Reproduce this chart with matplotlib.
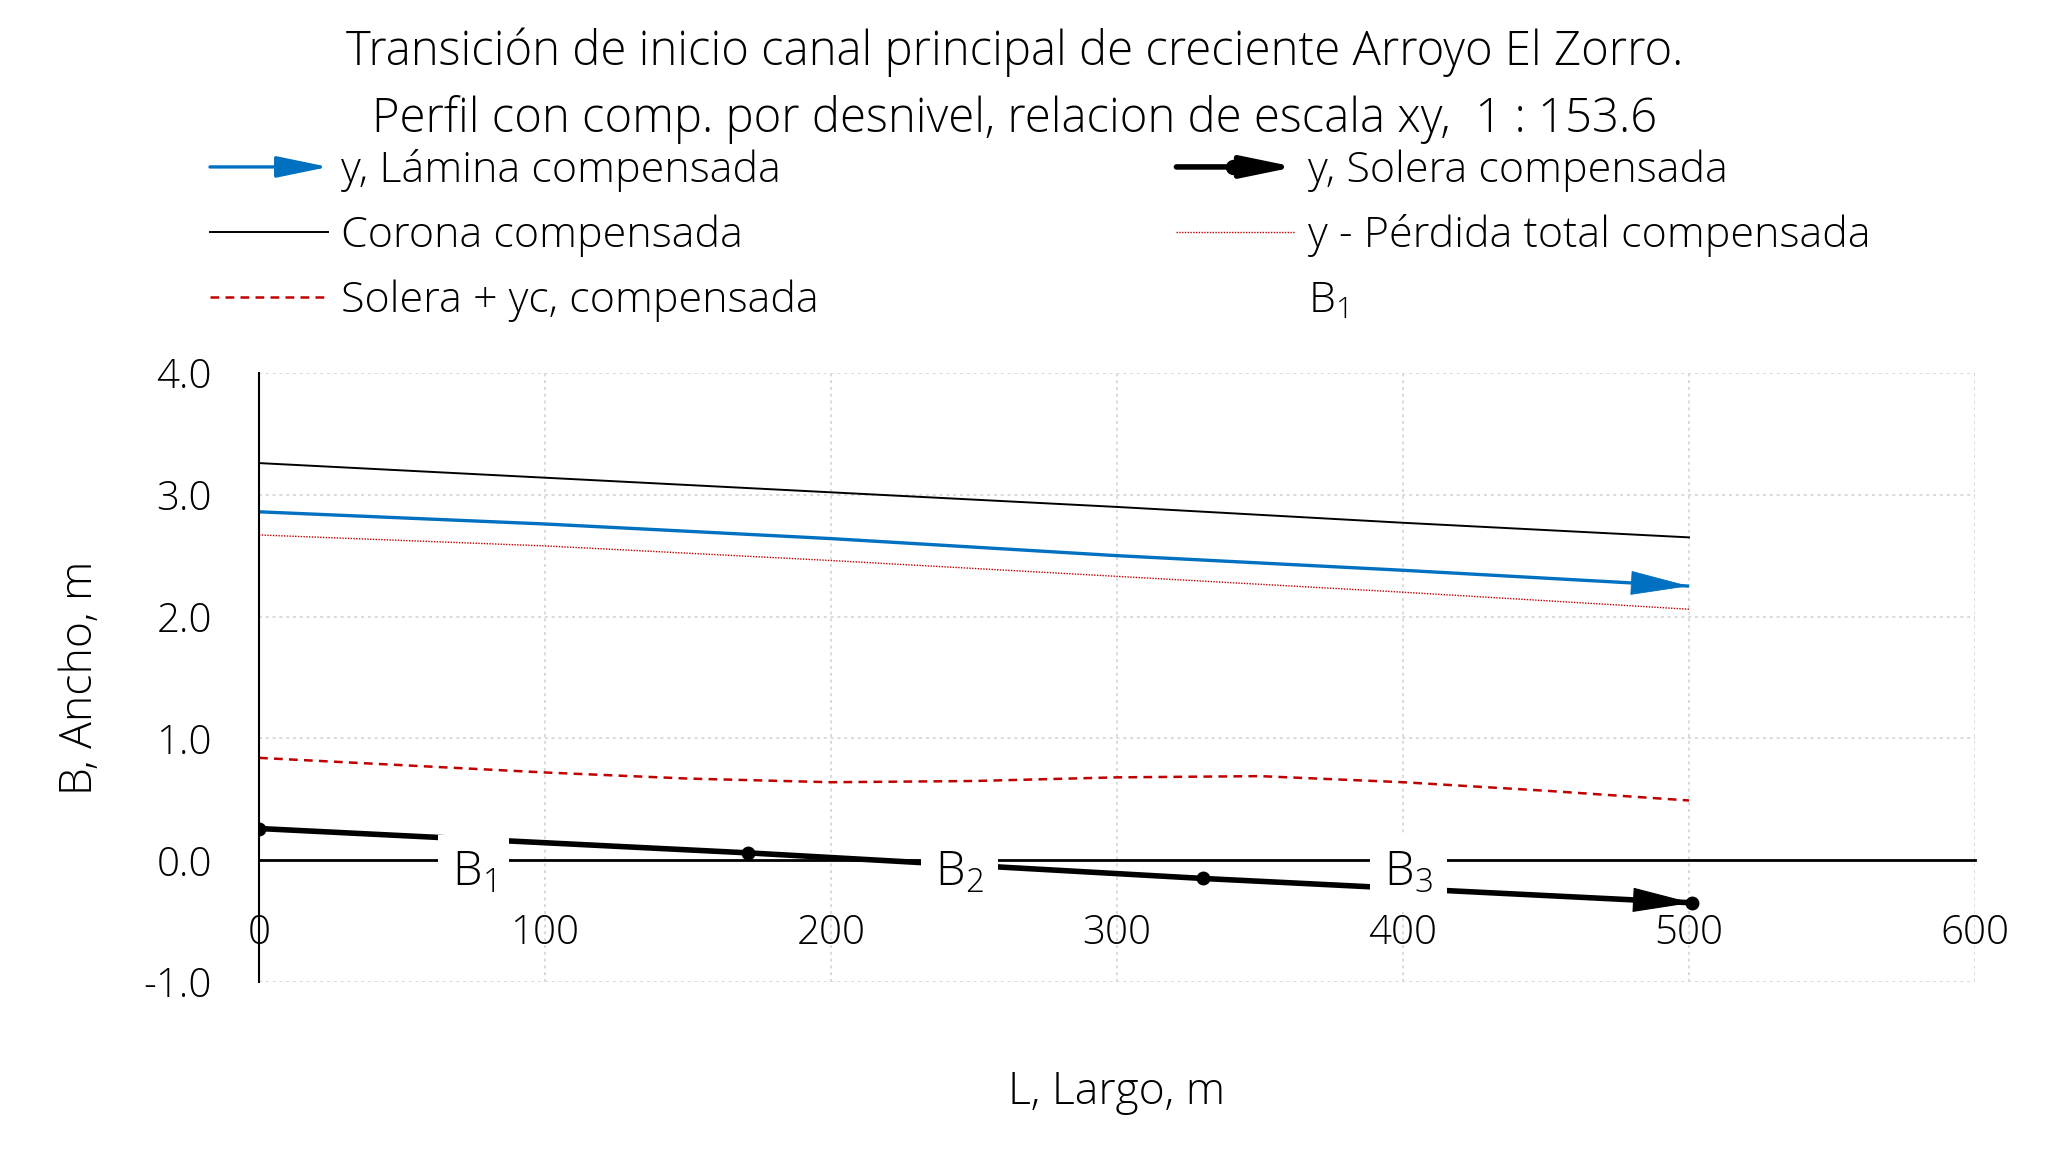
import matplotlib
matplotlib.use('Agg')
import matplotlib.pyplot as plt
from matplotlib.lines import Line2D
from matplotlib.patches import FancyArrowPatch
from matplotlib.legend_handler import HandlerBase

plt.rcParams['font.family'] = ['Open Sans', 'DejaVu Sans']
plt.rcParams['font.weight'] = 'light'
plt.rcParams['mathtext.fontset'] = 'custom'
plt.rcParams['mathtext.rm'] = 'Open Sans'

# data
L = [0, 100, 200, 300, 400, 500]
corona = [3.26, 3.14, 3.02, 2.90, 2.77, 2.65]
lamina = [2.86, 2.76, 2.64, 2.50, 2.38, 2.25]
perdida = [2.67, 2.58, 2.46, 2.33, 2.20, 2.06]

L_yc = [0, 50, 100, 150, 200, 250, 300, 350, 400, 450, 500]
solera_yc = [0.84, 0.78, 0.72, 0.67, 0.64, 0.65, 0.68, 0.69, 0.64, 0.57, 0.49]

L_sol = [0, 171, 330, 501]
solera = [0.26, 0.06, -0.15, -0.35]

b_names = ['B$_1$', 'B$_2$', 'B$_3$']
b_pos = [75, 245, 402]

blue = '#0070C0'
red = '#C00000'
FS = 29
HEAD = '-|>,head_length=1.6,head_width=0.33'


class ArrowHandler(HandlerBase):
    def __init__(self, color, lw, dot=False):
        super().__init__()
        self.color = color
        self.lw = lw
        self.dot = dot

    def create_artists(self, legend, orig_handle, xdescent, ydescent,
                       width, height, fontsize, trans):
        y = height / 2 - ydescent
        x0 = -xdescent
        arr = FancyArrowPatch((x0, y), (x0 + width, y), arrowstyle=HEAD,
                              mutation_scale=20, color=self.color, lw=self.lw,
                              shrinkA=0, shrinkB=0, transform=trans)
        out = [arr]
        if self.dot:
            d = Line2D([x0 + width * 0.48], [y], marker='o', ms=10,
                       color=self.color, transform=trans)
            out.append(d)
        return out


fig = plt.figure(figsize=(20.59, 11.5), dpi=100)
ax = fig.add_axes([0.1258, 0.1461, 0.8334, 0.5296])

ax.plot(L, corona, color='black', lw=1.4)

# lamina with arrow head at the end
ax.plot(L, lamina, color=blue, lw=2.4, solid_capstyle='butt')
ax.annotate('', xy=(L[-1], lamina[-1]), xytext=(L[-2], lamina[-2]),
            arrowprops=dict(arrowstyle=HEAD, mutation_scale=25, color=blue,
                            lw=0.6, shrinkA=0, shrinkB=0))

ax.plot(L, perdida, color=red, lw=1.0, ls=(0, (1, 1)))
ax.plot(L_yc, solera_yc, color=red, lw=1.8, ls=(0, (3.5, 2.5)))

# solera, thick with dots and arrow head
ax.plot(L_sol, solera, color='black', lw=4, solid_capstyle='butt')
ax.annotate('', xy=(L_sol[-1], solera[-1]), xytext=(L_sol[-2], solera[-2]),
            arrowprops=dict(arrowstyle=HEAD, mutation_scale=25, color='black',
                            lw=0.8, shrinkA=0, shrinkB=0))
ax.plot(L_sol, solera, ls='none', marker='o', ms=9, color='black', zorder=5)

for name, x in zip(b_names, b_pos):
    ax.text(x, -0.11, name, fontsize=34, ha='center', va='center', zorder=10,
            bbox=dict(boxstyle='square,pad=0.3', fc='white', ec='none'))

ax.set_xlim(0, 600)
ax.set_ylim(-1, 4)
ax.set_xticks(range(0, 601, 100))
ax.set_yticks([-1, 0, 1, 2, 3, 4])
ax.set_yticklabels(['-1.0', '0.0', '1.0', '2.0', '3.0', '4.0'])
ax.grid(True, color='#d9d9d9', ls=(0, (1.5, 2)), lw=1.4)
ax.set_axisbelow(True)

for s in ['top', 'right']:
    ax.spines[s].set_visible(False)
ax.spines['bottom'].set_position(('data', 0))
ax.spines['bottom'].set_linewidth(2)
ax.spines['left'].set_linewidth(1.5)
ax.tick_params(axis='both', length=0, labelsize=FS)
ax.tick_params(axis='x', pad=38)
ax.tick_params(axis='y', pad=34)

fig.text(81 / 2059, 1 - 0.5 * (373 + 982) / 1150, 'B, Ancho, m', fontsize=32,
         rotation=90, ha='center', va='center')
fig.text(0.5 * (259 + 1975) / 2059, 1 - 1093 / 1150, 'L, Largo, m',
         fontsize=32, ha='center', va='center')

fig.text(1015 / 2059, 1 - 52 / 1150,
         'Transición de inicio canal principal de creciente Arroyo El Zorro.',
         fontsize=34, ha='center', va='center')
fig.text(1015 / 2059, 1 - 119 / 1150,
         'Perfil con comp. por desnivel, relacion de escala xy,  1 : 153.6',
         fontsize=34, ha='center', va='center')

h_lam = Line2D([], [], color=blue)
h_cor = Line2D([], [], color='black', lw=1.4)
h_yc = Line2D([], [], color=red, lw=1.8, ls=(0, (3.5, 2.5)))
h_sol = Line2D([], [], color='black')
h_per = Line2D([], [], color=red, lw=1.0, ls=(0, (1, 1)))
h_b = Line2D([], [], color='none')

fig.legend([h_lam, h_cor, h_yc, h_sol, h_per, h_b],
           ['y, Lámina compensada', 'Corona compensada',
            'Solera + yc, compensada', 'y, Solera compensada',
            'y - Pérdida total compensada', 'B$_1$'],
           handler_map={h_lam: ArrowHandler(blue, 2.4),
                        h_sol: ArrowHandler('black', 4, dot=True)},
           loc='upper left', bbox_to_anchor=(210 / 2059, 1 - 149 / 1150),
           ncol=2, frameon=False, fontsize=31, handlelength=2.75,
           handletextpad=0.3, columnspacing=8.3, labelspacing=0.52,
           borderpad=0, borderaxespad=0)

fig.savefig('out.png', dpi=100)
